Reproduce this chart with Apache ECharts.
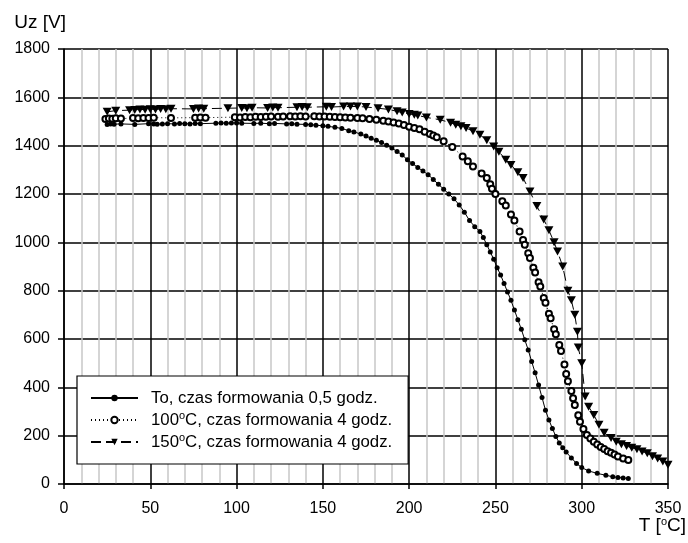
<!DOCTYPE html>
<html>
<head>
<meta charset="utf-8">
<script src="https://cdn.jsdelivr.net/npm/echarts@6/dist/echarts.min.js"></script>
<style>
html,body{margin:0;padding:0;background:#fff;}
#chart{width:688px;height:543px;}
</style>
</head>
<body>
<div id="chart"></div>
<script>
var seriesNames = ['To, czas formowania 0,5 godz.', '100°C, czas formowania 4 godz.', '150°C, czas formowania 4 godz.'];
var xTicks = [0, 50, 100, 150, 200, 250, 300, 350];
var yTicks = [0, 200, 400, 600, 800, 1000, 1200, 1400, 1600, 1800];

var tempTo = [25, 27, 29, 33, 41, 49, 52, 54, 57, 60, 64, 67, 70, 73, 76, 79, 88, 91, 94, 97, 100, 103, 110, 114, 119, 122, 129, 132, 135, 140, 143, 146, 150, 153, 157, 161, 165, 168, 172, 175, 178, 181, 184, 187, 190, 193, 196, 199, 202, 205, 208, 211, 214, 217, 220, 223, 226, 229, 232, 235, 238, 241, 243, 245, 247, 249, 251, 253, 255, 257, 259, 261, 263, 265, 267, 269, 271, 273, 275, 277, 279, 281, 283, 285, 287, 289, 291, 294, 297, 300, 304, 309, 314, 318, 321, 324, 327];
var uzTo = [1488, 1490, 1489, 1490, 1488, 1491, 1490, 1489, 1490, 1491, 1490, 1492, 1491, 1490, 1492, 1491, 1493, 1494, 1493, 1494, 1494, 1493, 1492, 1493, 1491, 1492, 1490, 1491, 1489, 1488, 1487, 1485, 1482, 1480, 1476, 1471, 1462, 1457, 1448, 1440, 1431, 1422, 1413, 1402, 1390, 1376, 1361, 1342, 1326, 1310, 1295, 1280, 1260, 1240, 1220, 1200, 1180, 1155, 1125, 1090, 1065, 1045, 1020, 990, 960, 930, 895, 865, 830, 795, 760, 720, 680, 640, 597, 555, 507, 460, 410, 358, 305, 265, 230, 197, 170, 150, 132, 108, 85, 68, 54, 44, 36, 30, 27, 25, 23];

var temp100 = [24, 26, 28, 30, 33, 40, 43, 46, 49, 52, 62, 76, 79, 82, 99, 102, 105, 108, 111, 114, 117, 120, 124, 127, 131, 134, 137, 140, 145, 148, 151, 154, 157, 160, 163, 166, 170, 173, 177, 181, 185, 188, 191, 194, 197, 200, 203, 206, 209, 212, 214, 216, 220, 225, 231, 234, 237, 242, 245, 247, 248, 250, 254, 256, 259, 261, 264, 266, 267, 269, 270, 272, 273, 275, 276, 278, 279, 281, 282, 284, 285, 287, 288, 290, 291, 292, 294, 295, 296, 298, 299, 301, 303, 305, 307, 309, 311, 313, 315, 317, 319, 321, 324, 327];
var uz100 = [1510, 1512, 1511, 1513, 1512, 1514, 1513, 1515, 1514, 1516, 1515, 1516, 1517, 1516, 1518, 1517, 1519, 1518, 1520, 1519, 1520, 1521, 1520, 1521, 1522, 1521, 1522, 1521, 1522, 1521, 1521, 1520, 1519, 1518, 1517, 1516, 1514, 1513, 1510, 1507, 1503, 1500, 1496, 1492, 1486, 1478, 1473, 1468, 1458, 1448, 1442, 1435, 1418, 1395, 1355, 1336, 1314, 1285, 1266, 1240, 1222, 1200, 1170, 1152, 1115, 1090, 1045, 1010, 990, 955, 935, 895, 875, 835, 817, 770, 750, 705, 686, 640, 620, 575, 550, 495, 455, 425, 385, 355, 327, 285, 258, 228, 203, 188, 175, 163, 153, 145, 136, 129, 122, 114, 106, 99];

var temp150 = [25, 30, 38, 41, 44, 47, 50, 53, 56, 59, 62, 75, 78, 81, 95, 103, 106, 109, 118, 121, 124, 135, 138, 141, 152, 155, 162, 166, 170, 175, 182, 188, 193, 196, 200, 203, 205, 210, 218, 224, 227, 230, 233, 237, 241, 245, 249, 252, 256, 259, 263, 266, 270, 274, 278, 281, 284, 286, 289, 292, 294, 296, 297.5, 298, 300, 302, 304, 307, 310, 313, 317, 320, 323, 326, 329, 332, 335, 338, 341, 344, 347, 350];
var uz150 = [1540, 1545, 1547, 1548, 1550, 1549, 1551, 1550, 1552, 1551, 1553, 1552, 1554, 1553, 1555, 1556, 1555, 1557, 1556, 1558, 1557, 1559, 1560, 1559, 1561, 1560, 1562, 1562, 1562, 1560, 1555, 1550, 1542, 1537, 1531, 1528, 1525, 1517, 1507, 1495, 1487, 1480, 1473, 1460, 1445, 1422, 1397, 1375, 1342, 1320, 1290, 1266, 1210, 1150, 1095, 1050, 1000, 962, 900, 800, 760, 700, 630, 565, 500, 362, 320, 286, 245, 212, 190, 175, 165, 157, 150, 144, 135, 127, 115, 106, 93, 80];

function zip(a, b) { var r = []; for (var i = 0; i < a.length; i++) r.push([a[i], b[i]]); return r; }

var chart = echarts.init(document.getElementById('chart'), null, {renderer: 'canvas'});
var font = 'Liberation Sans, Arial, sans-serif';
var triPath = 'path://M0,0 L10,0 L5,9 Z';
var supStyle = {fontSize: 11, fontFamily: font, color: '#000', verticalAlign: 'top', lineHeight: 10, padding: [0, 0, 8, 0]};

var option = {
  animation: false,
  backgroundColor: '#fff',
  grid: {left: 64, right: 20, top: 49, bottom: 59, containLabel: false, outerBoundsMode: 'none'},
  xAxis: {
    type: 'value', min: 0, max: 350, interval: 50,
    name: 'T [{sup|o}C]', nameLocation: 'end', nameGap: 18, nameMoveOverlap: false,
    nameTextStyle: {fontFamily: font, fontSize: 19, color: '#000', align: 'right', verticalAlign: 'top', padding: [32, 0, 0, 0],
      rich: {sup: supStyle}},
    axisLine: {show: true, lineStyle: {color: '#000', width: 1.5}},
    axisTick: {show: true, inside: false, length: 5, lineStyle: {color: '#000', width: 1.5}},
    axisLabel: {fontFamily: font, fontSize: 16, color: '#000', margin: 17, formatter: function (v) { return String(v); }},
    splitLine: {show: true, lineStyle: {color: '#000', width: 1.5}},
    minorTick: {show: false, splitNumber: 5},
    minorSplitLine: {show: true, lineStyle: {color: '#c8c8c8', width: 1.5}}
  },
  yAxis: {
    type: 'value', min: 0, max: 1800, interval: 200,
    name: 'Uz [V]', nameLocation: 'end', nameGap: 17, nameMoveOverlap: false,
    nameTextStyle: {fontFamily: font, fontSize: 19, color: '#000', align: 'right', verticalAlign: 'bottom', padding: [0, -2, 0, 0]},
    axisLine: {show: true, lineStyle: {color: '#000', width: 1.5}},
    axisTick: {show: true, inside: false, length: 6, lineStyle: {color: '#000', width: 1.5}},
    axisLabel: {fontFamily: font, fontSize: 16, color: '#000', margin: 14, formatter: function (v) { return String(v); }},
    splitLine: {show: true, lineStyle: {color: '#000', width: 1.5}}
  },
  legend: {
    show: true, orient: 'vertical', left: 77, top: 376,
    backgroundColor: '#fff', borderColor: '#000', borderWidth: 1.2,
    padding: [12, 16, 12, 13],
    itemWidth: 47, itemHeight: 8, itemGap: 2,
    data: seriesNames,
    formatter: function (n) { return n.replace('°', '{sup|o}'); },
    textStyle: {fontFamily: font, fontSize: 16.8, color: '#000', lineHeight: 20, padding: [0, 0, 0, 8],
      rich: {sup: supStyle}}
  },
  series: [
    {
      name: seriesNames[0], type: 'line', data: zip(tempTo, uzTo),
      symbol: 'circle', symbolSize: 5, showAllSymbol: true,
      lineStyle: {color: '#000', width: 1, type: 'solid'},
      itemStyle: {color: '#000', borderColor: '#000', borderWidth: 0}
    },
    {
      name: seriesNames[1], type: 'line', data: zip(temp100, uz100),
      symbol: 'emptyCircle', symbolSize: 6, showAllSymbol: true,
      lineStyle: {color: '#000', width: 1, type: [1, 3]},
      itemStyle: {color: '#000', borderColor: '#000', borderWidth: 1}
    },
    {
      name: seriesNames[2], type: 'line', data: zip(temp150, uz150),
      symbol: triPath, symbolSize: [9, 8], showAllSymbol: true,
      lineStyle: {color: '#000', width: 1, type: [10, 5]},
      itemStyle: {color: '#000', borderColor: '#000', borderWidth: 0}
    }
  ]
};
chart.setOption(option);
</script>
</body>
</html>
